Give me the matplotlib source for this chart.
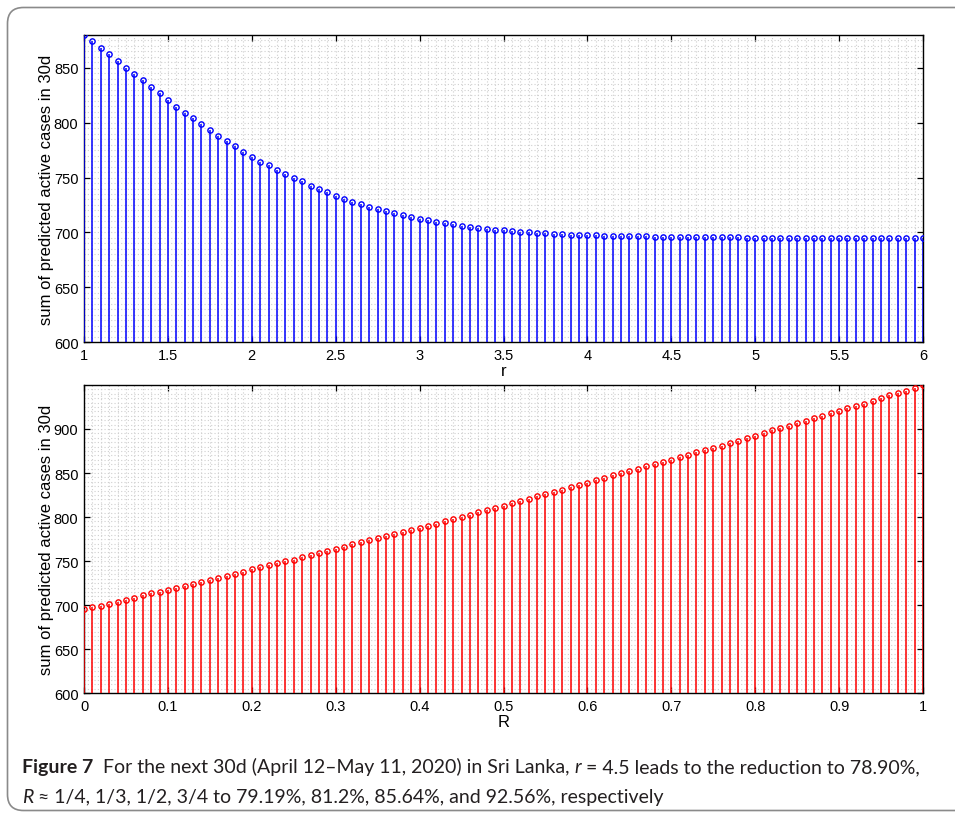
import numpy as np
import matplotlib
matplotlib.use("Agg")
import matplotlib.pyplot as plt
from matplotlib.patches import FancyBboxPatch
from matplotlib.ticker import MultipleLocator
from matplotlib.transforms import IdentityTransform

# ---------------- data ----------------
r_values = np.linspace(1.0, 6.0, 101)          # r = 1 : 0.05 : 6
sum_cases_r = [
    880.0, 874.0, 868.0, 862.0, 856.0, 850.0, 844.0, 838.5, 832.0, 826.5,
    820.5, 814.5, 809.0, 804.0, 798.5, 793.5, 788.0, 783.5, 778.5, 773.5,
    769.0, 764.5, 761.0, 757.0, 753.0, 749.5, 746.5, 742.5, 739.5, 736.5,
    733.5, 730.5, 728.0, 725.5, 723.5, 721.0, 719.3, 717.5, 715.5, 714.0,
    712.5, 711.0, 709.6, 708.5, 707.4, 706.1, 705.0, 704.1, 703.4, 702.5,
    701.9, 701.3, 700.6, 700.0, 699.5, 699.1, 698.8, 698.5, 698.0, 697.8,
    697.6, 697.4, 697.2, 697.0, 696.8, 696.6, 696.5, 696.4, 696.2, 696.1,
    696.0, 695.9, 695.8, 695.7, 695.6, 695.5, 695.5, 695.4, 695.4, 695.3,
    695.3, 695.2, 695.2, 695.1, 695.1, 695.1, 695.0, 695.0, 695.0, 695.0,
    694.9, 694.9, 694.9, 694.9, 694.9, 694.8, 694.8, 694.8, 694.8, 694.8,
    694.8,
]

R_values = np.linspace(0.0, 1.0, 101)          # R = 0 : 0.01 : 1
sum_cases_R = [
    695.3, 697.6, 699.1, 701.4, 704.0, 706.2, 708.5, 711.1, 713.5, 715.0,
    717.2, 719.2, 721.8, 724.4, 726.7, 728.9, 731.2, 733.5, 735.8, 738.0,
    740.7, 743.0, 745.3, 747.9, 749.8, 751.6, 754.3, 756.6, 759.2, 761.7,
    764.2, 766.6, 769.2, 771.7, 774.3, 776.3, 778.2, 780.5, 783.1, 785.4,
    787.6, 789.9, 792.5, 795.6, 797.8, 800.5, 802.7, 805.8, 808.1, 810.3,
    812.6, 815.6, 818.3, 820.9, 823.9, 826.6, 828.5, 830.8, 833.8, 836.4,
    838.7, 841.8, 844.4, 847.4, 849.7, 852.3, 854.9, 857.7, 860.3, 862.5,
    864.8, 867.9, 870.1, 873.6, 875.8, 878.8, 881.1, 884.5, 886.7, 889.8,
    892.1, 895.5, 898.5, 900.8, 903.7, 906.5, 909.4, 912.5, 914.8, 917.8,
    920.4, 923.5, 926.4, 928.7, 931.8, 934.8, 938.2, 940.5, 943.5, 946.5,
    949.9,
]

top_xticks = [1, 1.5, 2, 2.5, 3, 3.5, 4, 4.5, 5, 5.5, 6]
top_xticklabels = ["1", "1.5", "2", "2.5", "3", "3.5", "4", "4.5", "5", "5.5", "6"]
top_yticks = [600, 650, 700, 750, 800, 850]
bot_xticks = [0, 0.1, 0.2, 0.3, 0.4, 0.5, 0.6, 0.7, 0.8, 0.9, 1]
bot_xticklabels = ["0", "0.1", "0.2", "0.3", "0.4", "0.5", "0.6", "0.7", "0.8", "0.9", "1"]
bot_yticks = [600, 650, 700, 750, 800, 850, 900]
y_label = "sum of predicted active cases in 30d"

caption_line1 = [("Figure 7", "bold"), ("  ", "gap"),
                 ("For the next 30d (April 12\u2013May 11, 2020) in Sri Lanka,", "normal"), (" ", "gap"),
                 ("r", "italic"), (" ", "gap"),
                 ("= 4.5 leads to the reduction to 78.90%,", "normal")]
caption_line2 = [("R", "italic"), (" ", "gap"),
                 ("\u2248 1/4, 1/3, 1/2, 3/4 to 79.19%, 81.2%, 85.64%, and 92.56%, respectively", "normal")]

# ---------------- figure ----------------
W, H = 955, 820
DPI = 100
plt.rcParams["font.family"] = ["Liberation Sans", "DejaVu Sans"]
fig = plt.figure(figsize=(W / DPI, H / DPI), dpi=DPI)
fig.patch.set_facecolor("white")


def px_axes(left, top, right, bottom):
    return fig.add_axes([left / W, 1 - bottom / H, (right - left) / W, (bottom - top) / H])


def style_axes(ax, x, y, color, xlim, ylim, xticks, xticklabels, yticks, xminor, xlabel):
    ax.set_xlim(*xlim)
    ax.set_ylim(*ylim)
    ax.set_xticks(xticks)
    ax.set_xticklabels(xticklabels)
    ax.set_yticks(yticks)
    ax.xaxis.set_minor_locator(MultipleLocator(xminor))
    ax.yaxis.set_minor_locator(MultipleLocator(5))
    ax.grid(True, which="both", color="#cfcfcf", linestyle=(0, (1, 2)), linewidth=0.8)
    ax.set_axisbelow(True)
    ax.tick_params(which="major", direction="in", length=4, width=0.9, top=True, right=True,
                   labelsize=10.5, pad=4, colors="black")
    ax.tick_params(which="minor", length=0, top=True, right=True)
    for s in ax.spines.values():
        s.set_linewidth(1.0)
        s.set_color("black")
    ax.vlines(x, ylim[0], y, colors=color, linewidth=1.1, zorder=3)
    ax.plot(x, y, "o", markerfacecolor="none", markeredgecolor=color,
            markersize=3.8, markeredgewidth=1.0, zorder=4)
    ax.set_ylabel(y_label, fontsize=12)
    ax.set_xlabel(xlabel, fontsize=12)
    ax.yaxis.set_label_coords(-0.036, 0.5)
    ax.xaxis.set_label_coords(0.5, -0.066)


ax1 = px_axes(84, 35.7, 923, 343.3)
style_axes(ax1, r_values, sum_cases_r, "#0000ff", (1, 6), (600, max(sum_cases_r)),
           top_xticks, top_xticklabels, top_yticks, 0.05, "r")

ax2 = px_axes(84, 386, 923, 694.3)
style_axes(ax2, R_values, sum_cases_R, "#ff0000", (0, 1), (600, max(sum_cases_R)),
           bot_xticks, bot_xticklabels, bot_yticks, 0.01, "R")

# rounded frame around the figure (pixel coordinates)
frame = FancyBboxPatch((7.5, H - 811.5), 990, 803,
                       boxstyle="round,pad=0,rounding_size=16",
                       transform=IdentityTransform(), facecolor="none",
                       edgecolor="#8a8a8a", linewidth=1.2, zorder=0)
fig.patches.append(frame)

# ---------------- caption ----------------
fams = ["Lato", "Liberation Sans", "DejaVu Sans"]
renderer = fig.canvas.get_renderer()


def kind_props(kind):
    return ("bold" if kind == "bold" else "normal",
            "italic" if kind == "italic" else "normal")


def measure(s, size, weight="normal", style="normal"):
    t = fig.text(0, 0, s, fontsize=size, family=fams, weight=weight, style=style)
    w = t.get_window_extent(renderer).width
    t.remove()
    return w


def draw_line(pieces, x0, y_base, size):
    space = measure("a a", size) - measure("aa", size)
    x = x0
    for s, kind in pieces:
        if kind == "gap":
            x += space * len(s)
            continue
        weight, style = kind_props(kind)
        t = fig.text(x / W, 1 - y_base / H, s, fontsize=size, family=fams,
                     weight=weight, style=style, color="#231f20",
                     ha="left", va="baseline")
        x += t.get_window_extent(renderer).width
    return x


def line_width(pieces, size):
    space = measure("a a", size) - measure("aa", size)
    w = 0
    for s, kind in pieces:
        if kind == "gap":
            w += space * len(s)
        else:
            w += measure(s, size, *kind_props(kind))
    return w


target = 915 - 22
size0 = 12.0
cap_size = size0 * target / line_width(caption_line1, size0)
draw_line(caption_line1, 22, 773, cap_size)
draw_line(caption_line2, 22, 803, cap_size)

fig.savefig("out.png", dpi=DPI, facecolor="white")
